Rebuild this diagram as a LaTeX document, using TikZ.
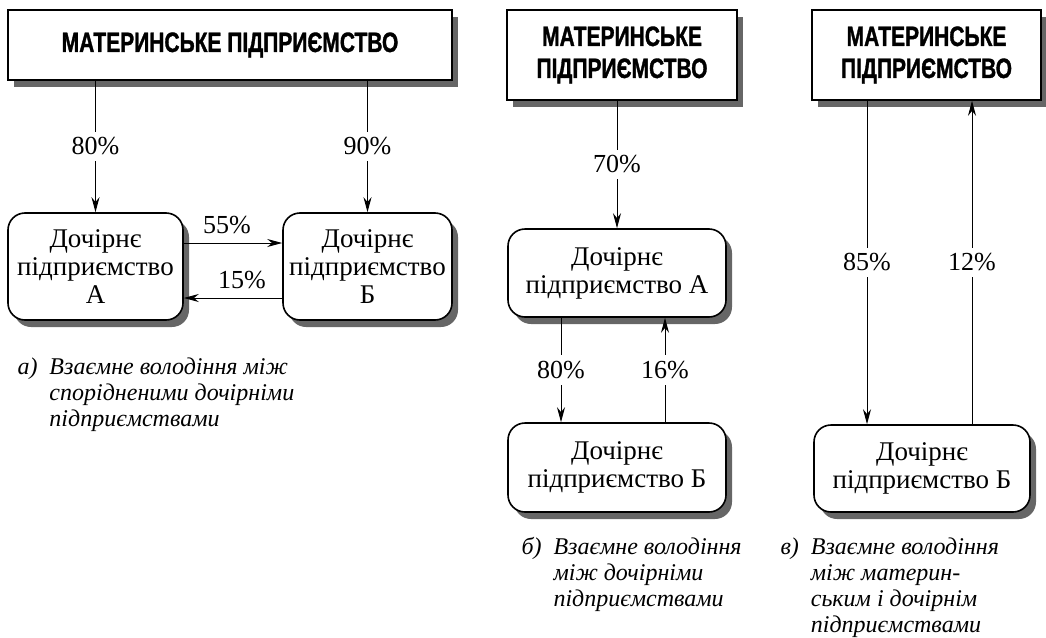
\documentclass[tikz,border=0pt]{standalone}
\usepackage{fontspec}
\setmainfont{Liberation Serif}
\newfontfamily\headfont[FakeStretch=0.75,BoldFeatures={FakeBold=1.2}]{Liberation Sans}
\usetikzlibrary{arrows.meta,shadows}
\tikzset{
  parentbox/.style={draw,line width=1.6pt,fill=white,inner sep=0pt,align=center,
    drop shadow={shadow xshift=6pt,shadow yshift=-7pt,fill=black!60,opacity=1},
    font=\headfont\bfseries\fontsize{28}{32}\selectfont},
  subbox/.style={draw,line width=1.6pt,fill=white,rounded corners=17pt,inner sep=0pt,align=center,
    drop shadow={shadow xshift=6pt,shadow yshift=-7pt,fill=black!60,opacity=1},
    font=\fontsize{27}{28}\selectfont},
  share/.style={fill=white,inner sep=6pt,font=\fontsize{26}{28}\selectfont},
  caption/.style={anchor=north west,inner sep=0pt,align=left,
    font=\itshape\fontsize{24}{26}\selectfont}
}

\begin{document}
\begin{tikzpicture}[x=1pt,y=-1pt,>={Stealth[length=15pt,width=8pt]},line width=1pt]
  \useasboundingbox (0,0) rectangle (1046,637);
  % a) two subsidiaries that own each other
  \node[parentbox,minimum width=444pt,minimum height=70pt] (topa) at (230,45) {МАТЕРИНСЬКЕ ПІДПРИЄМСТВО};
  \node[subbox,minimum width=175pt,minimum height=107pt] (suba) at (95.5,266.5) {Дочірнє\\підприємство\\А};
  \node[subbox,minimum width=169pt,minimum height=107pt] (subb) at (367.5,266.5) {Дочірнє\\підприємство\\Б};
  \draw[->] (topa.south -| suba.north) -- node[share] {80\%} (suba.north);
  \draw[->] (topa.south -| subb.north) -- node[share] {90\%} (subb.north);
  \draw[->] ([yshift=23.5pt]suba.east) -- node[above=5pt,xshift=-6pt,font=\fontsize{26}{28}\selectfont] {55\%} ([yshift=23.5pt]subb.west);
  \draw[->] ([yshift=-31.5pt]subb.west) -- node[above=5pt,xshift=9pt,font=\fontsize{26}{28}\selectfont] {15\%} ([yshift=-31.5pt]suba.east);
  \node[caption] (capa) at (17,356) {\begin{tabular}{@{}l@{\hspace{12pt}}l}а) & Взаємне володіння між\\ & спорідненими дочірніми\\ & підприємствами\end{tabular}};

  % b) parent above two subsidiaries
  \node[parentbox,minimum width=230pt,minimum height=90pt] (topb) at (622,55) {МАТЕРИНСЬКЕ\\ПІДПРИЄМСТВО};
  \node[subbox,minimum width=218pt,minimum height=88pt] (subab) at (617,273) {Дочірнє\\підприємство А};
  \node[subbox,minimum width=218pt,minimum height=89pt] (subbb) at (617,467.5) {Дочірнє\\підприємство Б};
  \coordinate (bdown) at (561,0);
  \coordinate (bup) at (665,0);
  \draw[->] (subab.north |- topb.south) -- node[share] {70\%} (subab.north);
  \draw[->] (bdown |- subab.south) -- node[share] {80\%} (bdown |- subbb.north);
  \draw[->] (bup |- subbb.north) -- node[share] {16\%} (bup |- subab.south);
  \node[caption] (capb) at (521,536) {\begin{tabular}{@{}l@{\hspace{12pt}}l}б) & Взаємне володіння\\ & між дочірніми\\ & підприємствами\end{tabular}};

  % c) parent and subsidiary own each other
  \node[parentbox,minimum width=229pt,minimum height=90pt] (topc) at (926.5,55) {МАТЕРИНСЬКЕ\\ПІДПРИЄМСТВО};
  \node[subbox,minimum width=216pt,minimum height=87pt] (subbc) at (922,468.5) {Дочірнє\\підприємство Б};
  \coordinate (cdown) at (867,0);
  \coordinate (cup) at (972,0);
  \draw[->] (cdown |- topc.south) -- node[share] {85\%} (cdown |- subbc.north);
  \draw[->] (cup |- subbc.north) -- node[share] {12\%} (cup |- topc.south);
  \node[caption] (capc) at (780,536) {\begin{tabular}{@{}l@{\hspace{12pt}}l}в) & Взаємне володіння\\ & між материн-\\ & ським і дочірнім\\ & підприємствами\end{tabular}};
\end{tikzpicture}
\end{document}
